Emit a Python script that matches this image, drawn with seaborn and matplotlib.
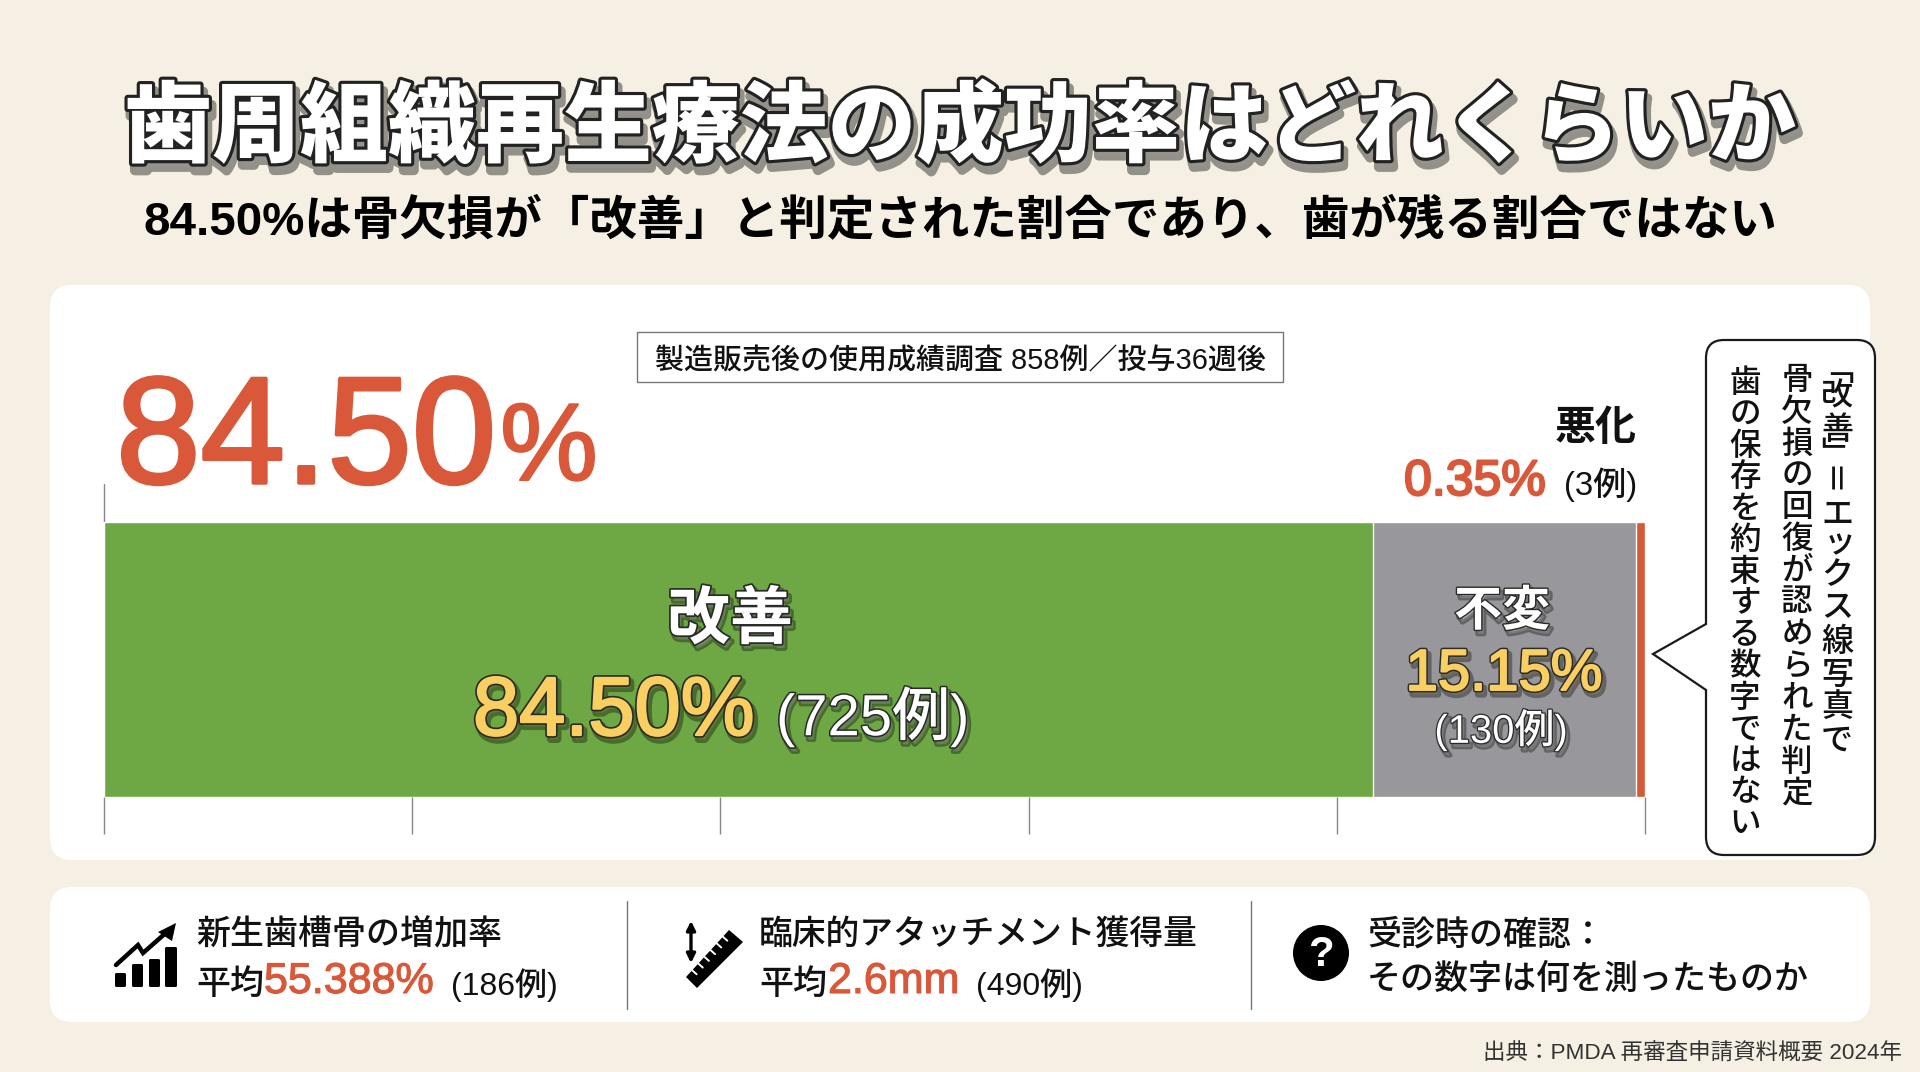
import matplotlib

matplotlib.use("Agg")
import matplotlib.patheffects as pe
import matplotlib.pyplot as plt
import numpy as np
import pandas as pd
import seaborn as sns
from matplotlib.patches import Circle, FancyBboxPatch, PathPatch, Polygon
from matplotlib.path import Path

# bar lengths as drawn in the reference (share of the axis), they do not
# agree exactly with the printed percentages, which are kept as text below
statuses = ["改善", "不変", "悪化"]
drawn_share = [82.35, 17.05, 0.6]
printed_pct = ["84.50%", "15.15%", "0.35%"]
printed_cases = ["(725例)", "(130例)", "(3例)"]
axis_ticks = [0, 20, 40, 60, 80, 100]
bar_colors = ["#6DA844", "#98979B", "#D2593A"]

W, H = 1920, 1072
BG = "#F5F0E3"
RED = "#D9583A"
YELLOW = "#F8CF60"
INK = "#111111"
JP = "Noto Sans CJK JP"
LATIN = ["Liberation Sans", "Noto Sans CJK JP"]

sns.set_theme(style="white")
plt.rcParams["font.family"] = [JP, "DejaVu Sans"]


def px_axes(fig, zorder):
    ax = fig.add_axes([0, 0, 1, 1], zorder=zorder)
    ax.set_xlim(0, W)
    ax.set_ylim(H, 0)
    ax.axis("off")
    ax.patch.set_alpha(0)
    return ax


def put(ax, x, y, s, size, color=INK, ha="left", weight="medium", family=LATIN, effects=None, rotation=0):
    # size is the em height in reference pixels
    t = ax.text(
        x, y, s, fontsize=size * 0.72, color=color, ha=ha, va="center",
        fontweight=weight, family=family, rotation=rotation, rotation_mode="anchor",
    )
    if effects:
        t.set_path_effects(effects)
    return t


def thick(color, width):
    return [pe.Stroke(linewidth=width, foreground=color), pe.Normal()]


def outlined(stroke, fill=None, fatten=0, shadow=(2, -3)):
    effects = [
        pe.Stroke(linewidth=stroke + 1.5, foreground="#000000", alpha=0.35, offset=shadow),
        pe.Stroke(linewidth=stroke, foreground="#2A2A2A"),
    ]
    if fill:
        effects.append(pe.Stroke(linewidth=fatten, foreground=fill))
    effects.append(pe.Normal())
    return effects


def card(ax, x0, y0, x1, y1, r=20):
    ax.add_patch(
        FancyBboxPatch(
            (x0 + r, y0 + r), x1 - x0 - 2 * r, y1 - y0 - 2 * r,
            boxstyle=f"round,pad={r},rounding_size={r}", fc="white", ec="none",
        )
    )


def callout(ax, x0, y0, x1, y1, r, tip, base0, base1):
    M, L, C, Z = Path.MOVETO, Path.LINETO, Path.CURVE3, Path.CLOSEPOLY
    verts = [
        (x0 + r, y0), (x1 - r, y0), (x1, y0), (x1, y0 + r), (x1, y1 - r), (x1, y1), (x1 - r, y1),
        (x0 + r, y1), (x0, y1), (x0, y1 - r), (x0, base1), tip, (x0, base0), (x0, y0 + r),
        (x0, y0), (x0 + r, y0), (x0 + r, y0),
    ]
    codes = [M, L, C, C, L, C, C, L, C, C, L, L, L, L, C, C, Z]
    ax.add_patch(PathPatch(Path(verts, codes), fc="white", ec="#1A1A1A", lw=1.6))


def vertical(ax, x, y, chars, steps, size):
    for ch, step in zip(chars, steps):
        if ch == "＝":
            put(ax, x - 9, y + step / 2, ch, size, ha="center", rotation=-90, family=JP)
        elif ch == "ッ":
            put(ax, x + 3, y + step / 2 - 2, ch, size, ha="center", family=JP)
        else:
            put(ax, x, y + step / 2, ch, size, ha="center", family=JP)
        y += step


fig = plt.figure(figsize=(W / 100, H / 100), dpi=100, facecolor=BG)
back = px_axes(fig, 0)
front = px_axes(fig, 2)

card(back, 50, 285, 1870, 860, r=22)
card(back, 50, 887, 1870, 1022, r=22)

# stacked bar: cumulative totals drawn longest first
cum = np.cumsum(drawn_share)
df = pd.DataFrame({"row": ["all"] * 3, "status": statuses, "cum": cum})
ax = fig.add_axes([104 / W, 1 - 797 / H, (1645 - 104) / W, (797 - 521.5) / H], zorder=1)
sns.barplot(
    data=df, x="cum", y="row", hue="status", hue_order=statuses[::-1],
    palette=dict(zip(statuses, bar_colors)), dodge=False, width=1, saturation=1,
    legend=False, ax=ax,
)
ax.set_xlim(0, 100)
ax.set_ylim(0.5, -0.5)
ax.set_xlabel("")
ax.set_ylabel("")
ax.set_yticks([])
ax.set_xticks(axis_ticks)
ax.set_xticklabels([])
ax.tick_params(axis="x", bottom=True, length=26.5, width=1, color="#888888", direction="out")
sns.despine(ax=ax, left=True, bottom=True)
back.plot([104, 104], [484, 522], color="#888888", lw=1)

# title block
put(front, 960, 129, "歯周組織再生療法の成功率はどれくらいか", 88, color="white", ha="center", weight="black", family=JP,
    effects=[
        pe.Stroke(linewidth=7, foreground="#000000", alpha=0.4, offset=(2, -5)),
        pe.Stroke(linewidth=4.5, foreground="#222222"),
        pe.Normal(),
    ])
put(front, 960, 221, "84.50%は骨欠損が「改善」と判定された割合であり、歯が残る割合ではない", 47.5, color="#000000",
    ha="center", weight="bold")

# badge
back.add_patch(plt.Rectangle((637, 332), 646, 50, fc="white", ec="#777777", lw=1))
put(front, 960, 361, "製造販売後の使用成績調査 858例／投与36週後", 29, ha="center")

# big number
put(front, 116, 444, "84.50", 152, color=RED, weight="normal", effects=thick(RED, 2.5))
put(front, 500, 452, "%", 110, color=RED, weight="normal", effects=thick(RED, 1.5))

# worse label
put(front, 1637, 428, statuses[2], 41, ha="right", weight="bold", family=JP)
put(front, 1404, 482, printed_pct[2], 50, color=RED, weight="normal", effects=thick(RED, 1.6))
put(front, 1637, 485, printed_cases[2], 33, ha="right")

# labels inside the bar
put(front, 730, 620, statuses[0], 63, color="white", ha="center", weight="bold", family=JP, effects=outlined(2.5))
put(front, 473, 713, printed_pct[0], 83, color=YELLOW, weight="normal", effects=outlined(4, YELLOW, 1.6))
put(front, 776, 717, printed_cases[0], 58, color="white", effects=outlined(2.2))
put(front, 1502, 611, statuses[1], 48, color="white", ha="center", weight="bold", family=JP, effects=outlined(2))
put(front, 1504, 675, printed_pct[1], 58, color=YELLOW, ha="center", weight="normal", effects=outlined(3.5, YELLOW, 1.4))
put(front, 1501, 730, printed_cases[1], 40, color="white", ha="center", effects=outlined(1.8))

# callout
callout(back, 1706, 340, 1875, 855, 18, (1653, 654), 624, 690)
vertical(front, 1837, 362, "﹁改善﹂＝エックス線写真で", [18, 33, 33, 18, 34, 33, 28, 33, 33, 33, 33, 33, 33], 32)
vertical(front, 1797, 364, "骨欠損の回復が認められた判定", [31.8] * 14, 31.5)
vertical(front, 1745, 367, "歯の保存を約束する数字ではない", [31.5] * 15, 31.5)

# bottom card
for x in (627, 1251):
    back.plot([x, x], [901, 1009], color="#777777", lw=1)

put(front, 196, 935, "新生歯槽骨の増加率", 34)
put(front, 196, 985, "平均", 34)
put(front, 264, 982, "55.388%", 43, color=RED, weight="normal", effects=thick(RED, 0.8))
put(front, 451, 985, "(186例)", 32)

put(front, 759, 935, "臨床的アタッチメント獲得量", 33.8)
put(front, 759, 985, "平均", 34)
put(front, 828, 982, "2.6mm", 43, color=RED, weight="normal", effects=thick(RED, 0.8))
put(front, 976, 985, "(490例)", 32)

put(front, 1367, 935, "受診時の確認：", 34)
put(front, 1367, 980, "その数字は何を測ったものか", 34)

put(front, 1902, 1054, "出典：PMDA 再審査申請資料概要 2024年", 22.5, color="#333333", ha="right", weight="normal")

# growth icon
for x0, x1, top in [(115, 126, 973), (132, 143, 964), (149, 160, 959), (165, 177, 947)]:
    front.add_patch(FancyBboxPatch((x0, top), x1 - x0, 987 - top, boxstyle="round,pad=0,rounding_size=1.5", fc="black", ec="none"))
front.plot([116, 138, 143, 168], [965, 945, 953, 931], color="black", lw=3.2, solid_joinstyle="miter")
front.add_patch(Polygon([(176, 923), (172, 941), (158, 932)], fc="black", ec="none"))

# ruler icon
front.annotate("", xy=(691, 921), xytext=(691, 963), arrowprops=dict(arrowstyle="<|-|>", color="black", lw=2.4, mutation_scale=13, shrinkA=0, shrinkB=0))
front.add_patch(Polygon([(686, 977), (729, 930), (743, 942), (697, 988)], fc="black", ec="none"))
for k in range(1, 7):
    xa, ya = 686 + (729 - 686) * k / 7, 977 + (930 - 977) * k / 7
    front.plot([xa, xa + 4.5], [ya, ya + 4], color="white", lw=1.4)

# question icon
front.add_patch(Circle((1321, 953), 28, fc="black", ec="none"))
put(front, 1321, 955, "?", 42, color="white", ha="center", weight="bold")

fig.savefig("out.png", dpi=100, facecolor=BG)
